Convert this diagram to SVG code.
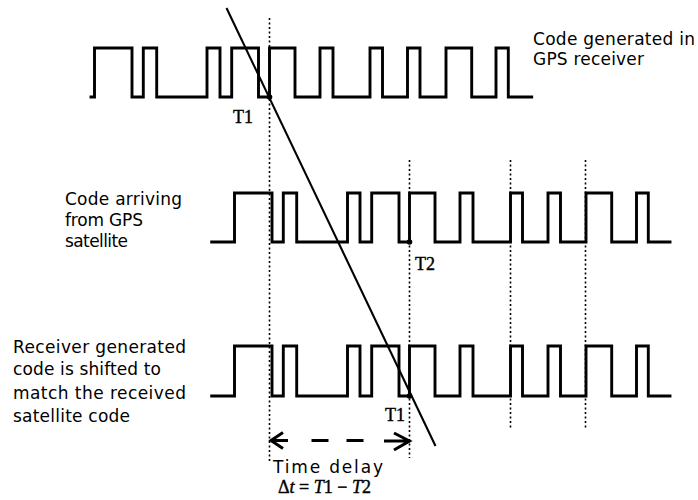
<svg xmlns="http://www.w3.org/2000/svg" width="698" height="500" viewBox="0 0 698 500">
<style>
.wave{fill:none;stroke:#000;stroke-width:2.9;stroke-linejoin:miter;stroke-linecap:square}
.dot{fill:none;stroke:#000;stroke-width:1.6;stroke-dasharray:2 2.5}
.lbl{font-family:"DejaVu Sans","Liberation Sans",sans-serif;font-size:17px;fill:#000}
.tl{font-family:"Liberation Serif","DejaVu Serif",serif;font-size:18px;fill:#000;stroke:#000;stroke-width:0.4}
.arr{fill:none;stroke:#000;stroke-width:3;stroke-linecap:butt}
</style>
<rect width="698" height="500" fill="#fff"/>
<g id="connectors">
<line class="dot" x1="269.5" y1="18" x2="269.5" y2="462"/>
<line class="dot" x1="409.5" y1="160" x2="409.5" y2="458"/>
<line class="dot" x1="510.5" y1="160" x2="510.5" y2="430"/>
<line class="dot" x1="585.5" y1="160" x2="585.5" y2="430"/>
<line x1="226.5" y1="8" x2="435.5" y2="446" stroke="#000" stroke-width="2.1"/>
<g id="delay-arrow">
<path class="arr" d="M271,440.5 H288 M283,432.5 L271,440.5 L283,448.5"/>
<path class="arr" d="M311.5,440.5 H328.5 M346.5,440.5 H363.5"/>
<path class="arr" d="M384,441 H409 M394,433 L409.5,441 L394,450"/>
</g>
</g>
<g id="code-receiver">
<path class="wave" d="M91,97 H94.5 V48 H132 V97 H143.3 V48 H156.7 V97 H207 V48 H220 V97 H231.7 V48 H258.5 V97 H269.5 V48 H295 V97 H320 V48 H333 V97 H370 V48 H382.5 V97 H407.5 V48 H420 V97 H446 V48 H471.7 V97 H496 V48 H508.3 V97 H531.7"/>
<circle cx="269.5" cy="97" r="2.8"/>
<text class="tl" x="233" y="123">T1</text>
</g>
<g id="code-satellite">
<path class="wave" d="M211.7,242 H234.5 V193 H272 V242 H283.3 V193 H296.7 V242 H347.5 V193 H360 V242 H371.7 V193 H399 V242 H409.5 V193 H435 V242 H460 V193 H473 V242 H510.5 V193 H522.5 V242 H548 V193 H560.5 V242 H586 V193 H611.7 V242 H636.5 V193 H648.3 V242 H670"/>
<circle cx="409.5" cy="242" r="2.8"/>
<text class="tl" x="415" y="270">T2</text>
</g>
<g id="code-shifted">
<path class="wave" d="M211.7,396 H234.5 V346 H272 V396 H283.3 V346 H296.7 V396 H347.5 V346 H360 V396 H371.7 V346 H399 V396 H409.5 V346 H435 V396 H460 V346 H473 V396 H510.5 V346 H522.5 V396 H548 V346 H560.5 V396 H586 V346 H611.7 V396 H636.5 V346 H648.3 V396 H670"/>
<circle cx="409.5" cy="396" r="2.8"/>
<text class="tl" x="385" y="421">T1</text>
</g>
<g id="label-receiver">
<text class="lbl" x="533" y="45" textLength="162">Code generated in</text>
<text class="lbl" x="533" y="65" textLength="111">GPS receiver</text>
</g>
<g id="label-satellite">
<text class="lbl" x="65" y="205" textLength="117">Code arriving</text>
<text class="lbl" x="65" y="226" textLength="78">from GPS</text>
<text class="lbl" x="65" y="247" textLength="63">satellite</text>
</g>
<g id="label-shifted">
<text class="lbl" x="13" y="353" textLength="173">Receiver generated</text>
<text class="lbl" x="13" y="375" textLength="148">code is shifted to</text>
<text class="lbl" x="13" y="399" textLength="173">match the received</text>
<text class="lbl" x="13" y="422" textLength="117">satellite code</text>
</g>
<g id="label-delay">
<text class="lbl" x="273" y="473" textLength="110">Time delay</text>
<text class="tl" x="278" y="493" stroke-width="0.2"><tspan>Δ</tspan><tspan font-style="italic">t</tspan> = <tspan font-style="italic">T</tspan>1 − <tspan font-style="italic">T</tspan>2</text>
</g>
</svg>
